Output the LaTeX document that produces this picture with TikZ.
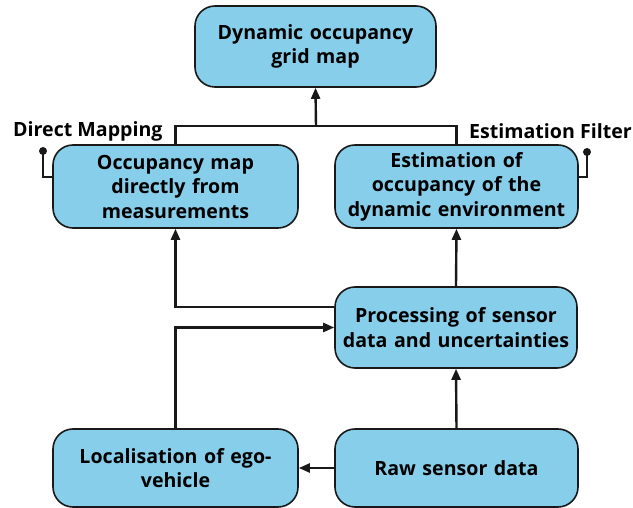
\documentclass[tikz,border=0pt]{standalone}
\usepackage{fontspec}
\setmainfont{Open Sans}
\usetikzlibrary{arrows.meta}
\definecolor{boxblue}{RGB}{135,206,235}
\definecolor{edge}{RGB}{25,25,25}
\begin{document}
\begin{tikzpicture}[x=1pt,y=-1pt,
  box/.style={draw=edge, line width=1.6pt, fill=boxblue, rounded corners=20pt,
    align=center, inner sep=0pt, font=\fontsize{19.6}{24.5}\selectfont\bfseries},
  conn/.style={line width=2.4pt, draw=edge},
  arr/.style={conn, -{Triangle[length=11pt,width=9pt]}},
  lbl/.style={font=\fontsize{19.6}{24}\selectfont\bfseries, inner sep=0pt},
  pinline/.style={line width=1.8pt, draw=edge},
  dot/.style={circle, fill=edge, inner sep=0pt, minimum size=8pt},
]
\useasboundingbox (0,0) rectangle (633,508);

\node[box, minimum width=241pt, minimum height=81pt, text width=232pt] (top) at (315.5,46.5)
  {Dynamic occupancy\\grid map};
\node[box, minimum width=245pt, minimum height=83pt, text width=238pt] (occ) at (175.5,186.5)
  {Occupancy map\\directly from\\measurements};
\node[box, minimum width=243pt, minimum height=83pt, text width=238pt] (est) at (456.5,186.5)
  {Estimation of\\occupancy of the\\dynamic environment};
\node[box, minimum width=242pt, minimum height=81pt, text width=238pt] (proc) at (456,327.5)
  {Processing of sensor\\data and uncertainties};
\node[box, minimum width=245pt, minimum height=78pt, text width=238pt] (loc) at (175.5,468)
  {Localisation of ego-\\vehicle};
\node[box, minimum width=243pt, minimum height=78pt, text width=238pt] (raw) at (456.5,468)
  {Raw sensor data};

\node[lbl, anchor=west] (dm) at (13,131) {Direct Mapping};
\node[lbl, anchor=east] (ef) at (632,131) {Estimation Filter};

% merge to top
\coordinate (j) at (316,126);
\draw[conn] (occ.north) |- (j) -| (est.north);
\draw[arr] (j) -- (top.south);

% processing outputs
\draw[arr] ([yshift=20.5pt]proc.west) -| (occ.south);
\draw[arr] (proc.north) -- (est.south);

% inputs
\draw[arr] (loc.north) |- (proc.west);
\draw[arr] (raw.north) -- (proc.south);
\draw[arr] (raw.west) -- (loc.east);

% pins
\node[dot] (dl) at (43,151) {};
\node[dot] (dr) at (587,152) {};
\draw[pinline] (dl.center) |- ([yshift=9.5pt]occ.west);
\draw[pinline] (dr.center) |- ([yshift=9.5pt]est.east);
\end{tikzpicture}
\end{document}
